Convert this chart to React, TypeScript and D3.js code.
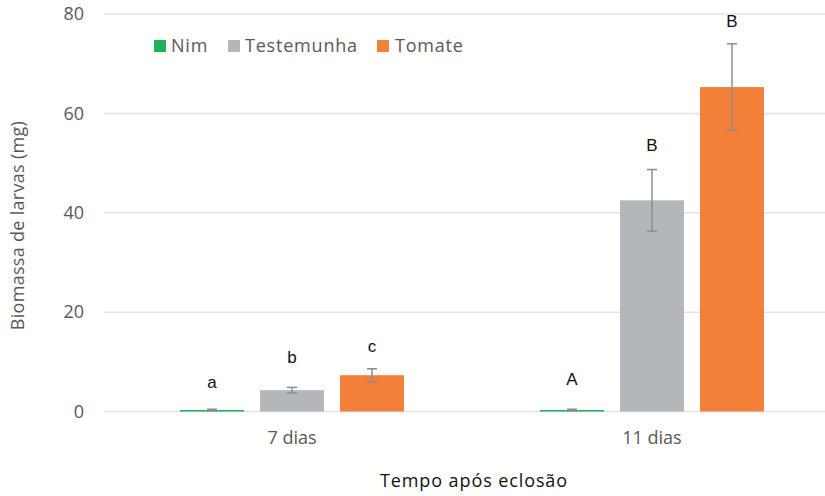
import React from 'react';
import * as d3 from 'd3';

const categories = ['7 dias', '11 dias'];
const seriesNames = ['Nim', 'Testemunha', 'Tomate'];
const seriesColors = ['#22B05A', '#B4B7BA', '#F28039'];
// values[series][category]
const nimValues = [0.3, 0.3];
const testemunhaValues = [4.3, 42.5];
const tomateValues = [7.3, 65.3];
const nimErrors = [0.15, 0.15];
const testemunhaErrors = [0.55, 6.2];
const tomateErrors = [1.3, 8.7];
const nimLetters = ['a', 'A'];
const testemunhaLetters = ['b', 'B'];
const tomateLetters = ['c', 'B'];
// letter baseline heights, in mg
const nimLetterY = [4.7, 5.3];
const testemunhaLetterY = [9.7, 52.4];
const tomateLetterY = [12.0, 77.4];
const yTicks = [0, 20, 40, 60, 80];

const W = 825, H = 496;
const font = '"Open Sans", "Noto Sans", sans-serif';

export default function App() {
  const values = [nimValues, testemunhaValues, tomateValues];
  const errors = [nimErrors, testemunhaErrors, tomateErrors];
  const letters = [nimLetters, testemunhaLetters, tomateLetters];
  const letterY = [nimLetterY, testemunhaLetterY, tomateLetterY];

  const x0 = d3.scaleBand().domain(categories).range([112, 832])
    .paddingInner(1 / 3).paddingOuter(1 / 6);
  const x1 = d3.scaleBand().domain(seriesNames).range([0, x0.bandwidth()])
    .paddingInner(0.2).paddingOuter(0.1);
  const y = d3.scaleLinear().domain([0, 80]).range([411.5, 14]);

  return (
    <svg width={W} height={H} style={{ position: 'absolute', left: 0, top: 0, background: '#fff' }}>
      {yTicks.map(t => (
        <g key={t}>
          <line x1={104} x2={W} y1={y(t)} y2={y(t)} stroke="#e3e3e3" strokeWidth={1.5} />
          <text x={84} y={y(t)} dy="0.35em" textAnchor="end" fontFamily={font} fontSize={18} fill="#595959">{t}</text>
        </g>
      ))}
      {categories.map((c, ci) => (
        <g key={c} transform={`translate(${x0(c)},0)`}>
          {seriesNames.map((s, si) => {
            const v = values[si][ci], e = errors[si][ci];
            const bx = x1(s)!, bw = x1.bandwidth(), cx = bx + bw / 2;
            return (
              <g key={s}>
                <rect x={bx} width={bw} y={y(v)} height={y(0) - y(v)} fill={seriesColors[si]} />
                <line x1={cx} x2={cx} y1={y(v + e)} y2={y(v - e)} stroke="#8c8c8c" strokeWidth={1.5} />
                <line x1={cx - 5} x2={cx + 5} y1={y(v + e)} y2={y(v + e)} stroke="#8c8c8c" strokeWidth={1.5} />
                <line x1={cx - 5} x2={cx + 5} y1={y(v - e)} y2={y(v - e)} stroke="#8c8c8c" strokeWidth={1.5} />
                <text x={cx} y={y(letterY[si][ci])} textAnchor="middle" fontFamily='"Liberation Sans", Arial, sans-serif' fontSize={17} fill="#111">{letters[si][ci]}</text>
              </g>
            );
          })}
          <text x={x0.bandwidth() / 2} y={444} textAnchor="middle" fontFamily={font} fontSize={18} fill="#595959">{c}</text>
        </g>
      ))}
      <text x={474} y={487} textAnchor="middle" fontFamily={font} fontSize={18} letterSpacing={0.9} fill="#111">Tempo após eclosão</text>
      <text transform={`translate(24,${(118 + 333) / 2}) rotate(-90)`} textAnchor="middle" fontFamily={font} fontSize={18} letterSpacing={0.3} fill="#595959">Biomassa de larvas (mg)</text>
      {[{ x: 154, tx: 171 }, { x: 228, tx: 245 }, { x: 377, tx: 395 }].map((l, i) => (
        <g key={i}>
          <rect x={l.x} y={40} width={12} height={12} fill={seriesColors[i]} />
          <text x={l.tx} y={46} dy="0.35em" fontFamily={font} fontSize={18} letterSpacing={0.8} fill="#595959">{seriesNames[i]}</text>
        </g>
      ))}
    </svg>
  );
}
